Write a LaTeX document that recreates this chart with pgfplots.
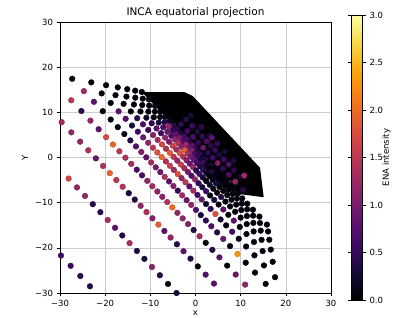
\documentclass[border=0pt]{standalone}
\usepackage{fontspec}
\setmainfont{DejaVu Sans}
\usepackage{pgfplots}
\pgfplotsset{compat=1.18}
\pgfplotsset{colormap={inferno}{rgb255(0cm)=(0,0,4); rgb255(1cm)=(22,11,57); rgb255(2cm)=(66,10,104); rgb255(3cm)=(106,23,110); rgb255(4cm)=(147,38,103); rgb255(5cm)=(188,55,84); rgb255(6cm)=(221,81,58); rgb255(7cm)=(243,120,25); rgb255(8cm)=(252,165,10); rgb255(9cm)=(246,215,70); rgb255(10cm)=(252,255,164)}}
\begin{document}
\begin{tikzpicture}
\useasboundingbox (0,0) rectangle (393pt,318pt);
\begin{axis}[
  at={(60pt,25pt)}, anchor=south west,
  scale only axis, width=271pt, height=271pt,
  xmin=-30, xmax=30, ymin=-30, ymax=30,
  xtick={-30,-20,...,30}, ytick={-30,-20,...,30},
  xticklabels={−30,−20,−10,0,10,20,30},
  yticklabels={−30,−20,−10,0,10,20,30},
  tick align=outside, tick pos=left, major tick length=3.5pt,
  grid=major, grid style={color=gray!40, line width=0.6pt},
  axis line style={line width=0.6pt},
  tick style={black, line width=0.6pt},
  ticklabel style={font=\fontsize{8.5}{10}\selectfont},
  title={INCA equatorial projection},
  title style={font=\fontsize{10.5}{12}\selectfont, at={(0.5,1)}, anchor=south, yshift=-4pt, inner sep=2pt},
  xlabel={x}, ylabel={Y},
  xlabel style={yshift=2pt},
  label style={font=\fontsize{8.5}{10}\selectfont},
  colormap name=inferno, point meta min=0, point meta max=3,
  colorbar,
  colorbar style={
    at={(parent axis.south east)}, anchor=south west, xshift=12pt, yshift=-7pt,
    scale only axis, width=11pt, height=285pt,
    ytick={0,0.5,...,3},
    yticklabels={0.0,0.5,1.0,1.5,2.0,2.5,3.0},
    yticklabel pos=right,
    ylabel={ENA intensity},
    ylabel style={at={(rel axis cs:3.18,0.5)}, anchor=center, rotate=0, inner sep=0pt},
    tick align=outside, major tick length=3.5pt,
    tick style={black, line width=0.6pt},
    axis line style={line width=0.6pt},
    ticklabel style={font=\fontsize{8.5}{10}\selectfont},
    label style={font=\fontsize{8.5}{10}\selectfont},
  },
]
% dense region of overlapping samples (intensity ~0)
\addplot[fill=black, draw=none] coordinates {(-11.88,14.51) (-2.4,14.45) (-0.6,13.6) (14.3,-2.3) (15.1,-8.8) (9.4,-8.05)} -- cycle;
\addplot[scatter, only marks, mark=*, mark size=2.85pt, scatter src=explicit] table[meta=c] {
x y c
-3.21 7.37 0.5
-1.79 5.87 0.6
-0.54 4.55 0.7
0.60 3.33 0.5
1.69 2.18 0.9
2.75 1.06 0.45
3.81 -0.07 0.6
4.90 -1.23 1.1
6.07 -2.46 0.5
7.34 -3.82 0.7
8.80 -5.36 1.2
10.52 -7.18 0.4
-2.08 8.42 0.4
-0.74 7.00 0.6
0.43 5.77 0.35
1.48 4.66 0.5
2.45 3.62 0.7
3.39 2.62 0.4
4.32 1.64 0.55
5.27 0.64 0.35
6.26 -0.41 0.6
7.33 -1.55 0.7
8.52 -2.81 0.45
9.90 -4.28 0.3
-1.04 9.32 0.3
1.33 6.81 0.45
3.19 4.84 0.35
4.84 3.09 0.5
6.51 1.32 0.3
8.40 -0.68 0.35
3.61 4.39 0.8
10.8 -4.0 1.3
7.3 -5.6 1.2
-11.88 14.51 0.05
-10.31 12.85 0.05
-8.96 11.41 0.05
-7.77 10.15 0.05
-6.70 9.03 0.05
-5.74 8.01 0.2
-4.87 7.08 0.4
-4.06 6.22 0.5
-3.30 5.42 0.3
-2.59 4.67 0.6
-1.91 3.95 0.7
-1.27 3.26 0.4
-0.64 2.60 0.8
-0.03 1.95 0.5
0.56 1.32 0.3
1.15 0.70 0.5
1.73 0.08 0.2
2.32 -0.54 0.4
2.91 -1.17 0.05
3.51 -1.80 0.3
4.13 -2.45 0.05
4.76 -3.13 0.05
5.42 -3.82 0.05
6.11 -4.55 0.05
6.84 -5.33 0.05
7.61 -6.15 0.05
8.45 -7.03 0.05
9.36 -8.00 0.05
10.35 -9.05 0.05
11.46 -10.23 0.05
12.72 -11.56 0.05
14.15 -13.08 0.05
15.82 -14.85 0.05
-13.35 14.79 0.05
-11.68 13.03 0.05
-10.25 11.50 0.05
-8.98 10.16 0.05
-7.85 8.97 0.05
-6.84 7.89 0.4
-5.91 6.90 1.2
-5.05 5.99 0.5
-4.24 5.14 0.8
-3.49 4.34 1.0
-2.77 3.58 0.7
-2.08 2.85 1.3
-1.42 2.14 0.9
-0.77 1.46 1.1
-0.14 0.79 0.6
0.48 0.13 0.5
1.10 -0.53 0.3
1.72 -1.19 0.6
2.35 -1.85 0.2
2.99 -2.53 0.05
3.64 -3.22 0.4
4.31 -3.93 0.05
5.01 -4.67 0.05
5.75 -5.45 0.05
6.52 -6.27 0.05
7.34 -7.14 0.05
8.23 -8.08 0.05
9.19 -9.10 0.05
10.25 -10.23 0.05
11.43 -11.48 0.05
12.76 -12.88 0.05
14.28 -14.50 0.05
16.06 -16.38 0.05
-15.11 15.12 0.05
-13.33 13.24 0.05
-11.79 11.61 0.05
-10.44 10.17 0.05
-9.23 8.89 0.05
-8.14 7.74 0.3
-7.15 6.69 0.6
-6.23 5.71 0.9
-5.37 4.80 0.7
-4.56 3.95 1.2
-3.79 3.13 1.4
-3.06 2.35 1.1
-2.35 1.60 1.9
-1.66 0.87 1.3
-0.98 0.15 1.0
-0.32 -0.56 0.8
0.35 -1.26 0.6
1.01 -1.96 0.4
1.68 -2.68 0.5
2.37 -3.40 0.2
3.06 -4.14 0.05
3.78 -4.90 0.05
4.53 -5.69 0.3
5.31 -6.52 0.05
6.14 -7.40 0.05
7.02 -8.33 0.05
7.97 -9.34 0.05
9.00 -10.43 0.05
10.13 -11.63 0.05
11.39 -12.96 0.05
12.81 -14.47 0.05
14.44 -16.20 0.05
16.34 -18.21 0.05
-17.21 15.52 0.05
-15.29 13.49 0.05
-13.63 11.73 0.05
-12.18 10.19 0.05
-10.88 8.81 0.2
-9.70 7.57 0.5
-8.63 6.43 0.8
-7.64 5.38 0.6
-6.72 4.40 1.2
-5.85 3.48 1.0
-5.02 2.60 1.6
-4.23 1.76 1.3
-3.46 0.95 1.8
-2.72 0.16 1.4
-1.99 -0.61 1.1
-1.27 -1.37 0.9
-0.56 -2.13 1.2
0.16 -2.89 0.4
0.88 -3.66 0.6
1.62 -4.44 0.3
2.37 -5.23 0.05
3.15 -6.05 0.2
3.95 -6.91 0.05
4.79 -7.80 0.05
5.68 -8.75 0.4
6.63 -9.75 0.05
7.66 -10.83 0.05
8.77 -12.01 0.05
9.99 -13.31 0.05
11.34 -14.74 0.05
12.87 -16.37 0.05
14.63 -18.23 0.05
16.67 -20.39 0.05
-19.80 16.01 0.05
-17.71 13.80 0.05
-15.91 11.88 0.05
-14.32 10.20 0.05
-12.91 8.70 0.4
-11.63 7.35 0.7
-10.46 6.11 0.5
-9.39 4.97 1.1
-8.38 3.90 1.3
-7.43 2.90 1.7
-6.53 1.94 1.4
-5.67 1.03 1.9
-4.84 0.15 1.5
-4.02 -0.71 1.2
-3.23 -1.56 1.6
-2.45 -2.38 1.3
-1.67 -3.21 1.0
-0.89 -4.04 0.7
-0.10 -4.87 1.2
0.70 -5.72 0.5
1.51 -6.59 0.3
2.36 -7.48 0.6
3.23 -8.41 0.05
4.15 -9.38 0.3
5.12 -10.41 0.05
6.16 -11.51 0.8
7.27 -12.69 0.05
8.48 -13.97 0.8
9.81 -15.38 0.05
11.29 -16.94 0.05
12.95 -18.71 0.05
14.86 -20.73 0.05
17.09 -23.09 0.05
-23.07 16.63 0.05
-20.77 14.19 0.05
-18.78 12.08 0.05
-17.03 10.22 0.8
-15.47 8.57 0.75
-14.06 7.08 0.3
-12.77 5.71 0.6
-11.59 4.45 0.9
-10.48 3.27 1.2
-9.43 2.17 1.5
-8.44 1.11 1.8
-7.49 0.11 2.0
-6.57 -0.87 1.4
-5.67 -1.82 1.6
-4.80 -2.74 1.3
-3.93 -3.66 1.8
-3.08 -4.57 1.2
-2.22 -5.48 1.5
-1.35 -6.40 0.8
-0.47 -7.34 1.3
0.44 -8.29 0.6
1.37 -9.28 0.9
2.33 -10.30 0.2
3.35 -11.38 0.5
4.42 -12.51 1.8
5.56 -13.72 0.3
6.78 -15.02 0.05
8.12 -16.43 0.6
9.58 -17.99 0.05
11.21 -19.71 0.05
13.05 -21.66 0.05
15.16 -23.90 0.05
17.61 -26.50 0.05
-27.30 17.43 0.05
-24.72 14.69 1.3
-22.49 12.33 0.8
-20.53 10.25 0.05
-18.78 8.40 0.05
-17.20 6.72 0.05
-15.76 5.19 0.1
-14.43 3.78 0.35
-13.18 2.46 0.7
-12.01 1.22 1.1
-10.90 0.04 0.8
-9.83 -1.09 1.3
-8.80 -2.18 1.0
-7.80 -3.24 0.9
-6.82 -4.28 1.4
-5.85 -5.30 0.8
-4.89 -6.32 1.1
-3.93 -7.34 0.5
-2.96 -8.38 1.3
-1.97 -9.43 0.9
-0.96 -10.50 1.2
0.09 -11.60 0.7
1.17 -12.75 0.3
2.30 -13.95 0.5
3.50 -15.22 0.75
4.78 -16.58 0.4
6.15 -18.03 0.9
7.65 -19.62 0.05
9.29 -21.36 2.3
11.12 -23.29 0.05
13.18 -25.48 0.05
15.54 -27.98 0.05
18.29 -30.89 0.05
-30.06 15.37 1.3
-27.51 12.67 1.5
-25.26 10.29 0.45
-23.26 8.16 1.2
-21.45 6.25 0.8
-19.80 4.50 1.75
-18.27 2.88 1.95
-16.85 1.37 1.5
-15.51 -0.05 1.4
-14.23 -1.41 1.3
-13.01 -2.70 0.7
-11.83 -3.95 0.65
-10.68 -5.17 1.2
-9.56 -6.36 1.3
-8.45 -7.53 1.2
-7.35 -8.70 1.15
-6.25 -9.87 1.45
-5.13 -11.05 2.0
-4.00 -12.25 1.2
-2.84 -13.48 1.2
-1.65 -14.74 1.1
-0.41 -16.06 0.4
0.89 -17.44 1.3
2.27 -18.89 0.05
3.73 -20.44 0.4
5.30 -22.11 0.8
7.01 -23.93 0.05
8.90 -25.92 0.9
10.99 -28.14 1.2
13.35 -30.64 1.25
-29.63 7.83 1.3
-27.49 5.57 1.2
-25.54 3.50 1.2
-23.74 1.59 1.4
-22.06 -0.19 0.9
-20.47 -1.87 1.4
-18.97 -3.46 1.95
-17.53 -4.99 1.5
-16.13 -6.47 1.45
-14.78 -7.90 0.35
-13.45 -9.31 0.4
-12.14 -10.70 1.2
-10.85 -12.07 1.4
-9.54 -13.46 1.1
-8.22 -14.85 1.9
-6.89 -16.27 0.8
-5.52 -17.72 1.2
-4.11 -19.21 0.4
-2.65 -20.76 0.8
-1.11 -22.39 0.4
0.51 -24.11 0.05
2.24 -25.94 0.75
4.09 -27.91 0.8
6.11 -30.05 0.8
-30.05 -2.58 1.5
-28.10 -4.66 1.7
-26.24 -6.63 1.2
-24.46 -8.51 1.2
-22.74 -10.34 0.45
-21.07 -12.11 0.45
-19.43 -13.84 1.35
-17.81 -15.56 0.8
-16.21 -17.26 0.4
-14.60 -18.96 1.35
-12.97 -20.69 0.35
-11.32 -22.44 0.35
-9.64 -24.23 1.15
-7.90 -26.07 0.4
-6.09 -27.99 0.05
-4.19 -30.00 0.3
-29.78 -21.70 0.6
-27.64 -23.98 0.55
-25.50 -26.24 0.4
-23.36 -28.51 0.4
-21.20 -30.80 0.4
};
\end{axis}
\end{tikzpicture}
\end{document}
